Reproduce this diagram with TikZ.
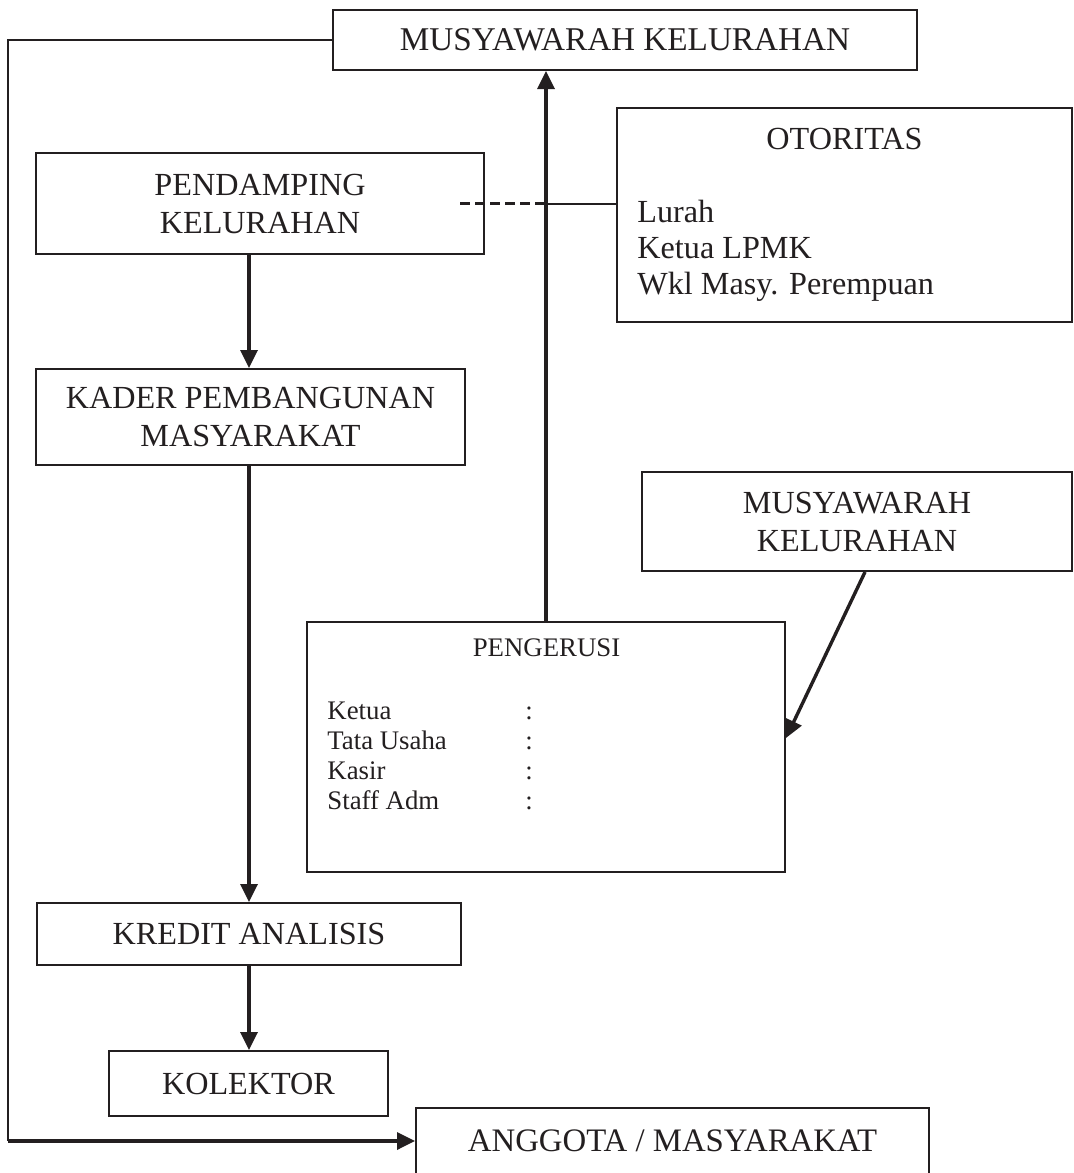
\documentclass[tikz,border=0pt]{standalone}
\usepackage{fontspec}
\setmainfont{Liberation Serif}
\usetikzlibrary{arrows.meta,calc}
\definecolor{ink}{RGB}{35,31,32}
\begin{document}
\begin{tikzpicture}[x=0.5pt,y=-0.5pt,
  box/.style={draw=ink, line width=1pt, inner sep=0pt, text=ink, align=center,
              font=\fontsize{16.1}{19}\selectfont},
  txt/.style={inner sep=0pt, text=ink, font=\fontsize{16.1}{18}\selectfont},
  smalltxt/.style={inner sep=0pt, text=ink, font=\fontsize{13.4}{15}\selectfont},
  thinline/.style={draw=ink, line width=1pt},
  thickarrow/.style={draw=ink, line width=1.7pt, -{Triangle[length=9pt,width=8.5pt]}},
  dashline/.style={draw=ink, line width=1.5pt, dash pattern=on 5pt off 2.5pt}]
\useasboundingbox (0,0) rectangle (1073,1173);

% boxes
\node[box, minimum width=292pt, minimum height=30pt, font=\fontsize{16.6}{19}\selectfont] (mk1) at (625,40) {MUSYAWARAH KELURAHAN};
\node[box, minimum width=224pt, minimum height=50.5pt] (pend) at (260,203.5) {PENDAMPING\\KELURAHAN};
\node[box, minimum width=227.5pt, minimum height=107pt] (otor) at (844.5,215) {};
\node[txt] (otortitle) at (844.5,139) {OTORITAS};
\node[txt, anchor=west, align=left] (otorlist) at (637,251) {Lurah\\Ketua LPMK\\Wkl Masy. Perempuan};
\node[box, minimum width=214.5pt, minimum height=48pt] (kader) at (250.5,417) {KADER PEMBANGUNAN\\MASYARAKAT};
\node[box, minimum width=215pt, minimum height=49.5pt] (mk2) at (857,521.5) {MUSYAWARAH\\KELURAHAN};
\node[box, minimum width=239pt, minimum height=125pt] (peng) at (546,747) {};
\node[smalltxt] (pengtitle) at (546.5,648) {PENGERUSI};
\node[smalltxt, anchor=west] (penglist) at (327,758) {%
  \begin{tabular}{@{}p{99pt}@{}l@{}}
  Ketua & :\\
  Tata Usaha & :\\
  Kasir & :\\
  Staff Adm & :
  \end{tabular}};
\node[box, minimum width=212pt, minimum height=31pt] (kredit) at (249,934) {KREDIT ANALISIS};
\node[box, minimum width=139.5pt, minimum height=32.5pt] (kolek) at (248.5,1083.5) {KOLEKTOR};
\node[box, minimum width=256.5pt, minimum height=33pt, font=\fontsize{16.4}{19}\selectfont] (angg) at (672.5,1141) {ANGGOTA / MASYARAKAT};

% connectors
\coordinate (corner) at (8,1141);
\draw[thinline] (mk1.west) -| (corner);
\draw[thickarrow] (corner) -- (angg.west);
\draw[thickarrow] (pend.south -| kredit.north) -- (kredit.north |- kader.north);
\draw[thickarrow] (kader.south -| kredit.north) -- (kredit.north);
\draw[thickarrow] (kredit.south) -- (kredit.south |- kolek.north);
\draw[thickarrow] (peng.north) -- (peng.north |- mk1.south);
\draw[thickarrow] ([xshift=4pt]mk2.south) -- ([yshift=4.5pt]peng.east);
\draw[dashline] ([xshift=-12.5pt]pend.east) -- (peng.north |- pend.east);
\draw[thinline] (peng.north |- pend.east) -- (otor.west |- pend.east);
\end{tikzpicture}
\end{document}
